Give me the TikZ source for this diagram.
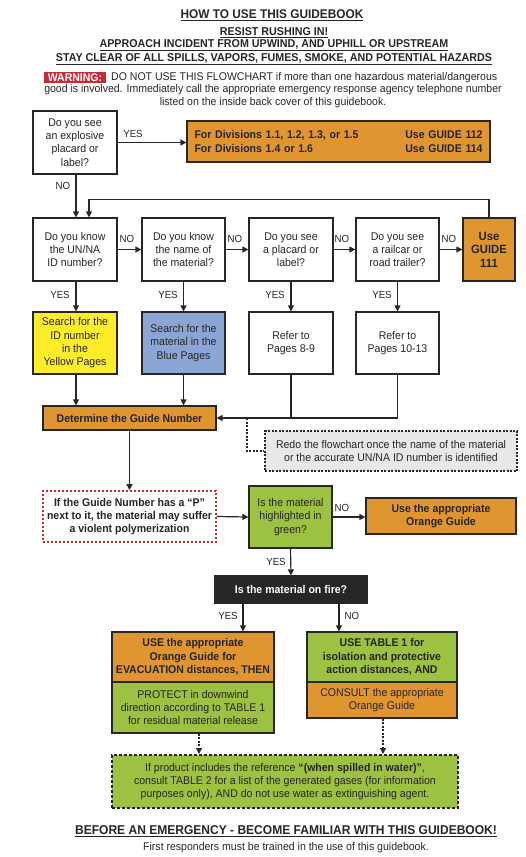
\documentclass[tikz,border=0pt]{standalone}
\usepackage{fontspec}
\setmainfont[FakeStretch=0.94]{Liberation Sans}
\usetikzlibrary{arrows.meta}
\definecolor{ink}{RGB}{40,38,38}
\definecolor{guideorange}{RGB}{224,150,48}
\definecolor{guideyellow}{RGB}{255,236,40}
\definecolor{guideblue}{RGB}{140,165,212}
\definecolor{guidegreen}{RGB}{157,193,64}
\definecolor{guidegrey}{RGB}{232,232,232}
\definecolor{warnred}{RGB}{206,40,52}
\begin{document}
\begin{tikzpicture}[x=1pt,y=1pt]
			\tikzstyle{every node}+=[inner sep=0pt, text=ink]
			\tikzstyle{box}=[draw=ink, line width=1.2pt, align=center, font=\fontsize{11.2}{13.3}\selectfont]
			\tikzstyle{bbox}=[box, font=\fontsize{11.2}{13.3}\selectfont\bfseries]
			\tikzstyle{arr}=[draw=ink, line width=1.2pt, -{Triangle[length=6pt,width=6pt]}]
			\tikzstyle{dotarr}=[arr, dash pattern=on 2pt off 1.5pt, line width=1.6pt]
			\tikzstyle{lbl}=[font=\fontsize{10.3}{12}\selectfont]
			\tikzstyle{head}=[font=\fontsize{11.4}{13}\selectfont\bfseries]
			\useasboundingbox (0,0) rectangle (526,-857);
			\draw (272,-15) node[head, font=\fontsize{12.6}{14}\selectfont\bfseries] (title) {\underline{HOW TO USE THIS GUIDEBOOK}};
			\draw (274,-33) node[head] (rush) {\underline{RESIST RUSHING IN!}};
			\draw (274,-45) node[head] (upwind) {\underline{APPROACH INCIDENT FROM UPWIND, AND UPHILL OR UPSTREAM}};
			\draw (274,-59) node[head] (clear) {\underline{STAY CLEAR OF ALL SPILLS, VAPORS, FUMES, SMOKE, AND POTENTIAL HAZARDS}};
			\draw (75,-77.5) node[fill=warnred, text=white, minimum width=62pt, minimum height=11pt, font=\fontsize{11.2}{12}\selectfont\bfseries] (warn) {WARNING:};
			\draw (111,-77.5) node[anchor=west, font=\fontsize{11.2}{12}\selectfont] (warn1) {DO NOT USE THIS FLOWCHART if more than one hazardous material/dangerous};
			\draw (273,-96) node[align=center, font=\fontsize{11.2}{12.5}\selectfont] (warn2) {good is involved. Immediately call the appropriate emergency response agency telephone number\\listed on the inside back cover of this guidebook.};
			\draw (75,-142.5) node[box, fill=white, minimum width=84pt, minimum height=63pt] (expl) {Do you see\\an explosive\\placard or\\label?};
			\draw (338.5,-141.5) node[bbox, fill=guideorange, minimum width=303pt, minimum height=41pt, text width=288pt, align=left] (g112) {For Divisions 1.1, 1.2, 1.3, or 1.5\hfill Use GUIDE 112\\For Divisions 1.4 or 1.6\hfill Use GUIDE 114};
			\draw (75,-249.5) node[box, fill=white, minimum width=84pt, minimum height=63pt] (q1) {Do you know\\the UN/NA\\ID number?};
			\draw (183.5,-249.5) node[box, fill=white, minimum width=83pt, minimum height=63pt] (q2) {Do you know\\the name of\\the material?};
			\draw (291,-249.5) node[box, fill=white, minimum width=84pt, minimum height=63pt] (q3) {Do you see\\a placard or\\label?};
			\draw (397.5,-249.5) node[box, fill=white, minimum width=83pt, minimum height=63pt] (q4) {Do you see\\a railcar or\\road trailer?};
			\draw (489,-249.5) node[bbox, fill=guideorange, minimum width=52pt, minimum height=63pt, font=\fontsize{12}{13.5}\selectfont\bfseries] (g111) {Use\\GUIDE\\111};
			\draw (75,-343) node[box, fill=guideyellow, minimum width=84pt, minimum height=62pt] (yellow) {Search for the\\ID number\\in the\\Yellow Pages};
			\draw (183.5,-343) node[box, fill=guideblue, minimum width=83pt, minimum height=62pt] (blue) {Search for the\\material in the\\Blue Pages};
			\draw (291,-343) node[box, fill=white, minimum width=84pt, minimum height=62pt] (p89) {Refer to\\Pages 8-9};
			\draw (397.5,-343) node[box, fill=white, minimum width=83pt, minimum height=62pt] (p1013) {Refer to\\Pages 10-13};
			\draw (129.5,-418) node[bbox, fill=guideorange, minimum width=173pt, minimum height=24pt] (det) {Determine the Guide Number};
			\draw (391,-451) node[box, fill=guidegrey, dash pattern=on 2pt off 1.5pt, line width=1.6pt, minimum width=252pt, minimum height=40pt] (redo) {Redo the flowchart once the name of the material\\or the accurate UN/NA ID number is identified};
			\draw (129.5,-516.5) node[bbox, draw=warnred, fill=white, dash pattern=on 2pt off 2pt, line width=1.6pt, minimum width=173pt, minimum height=51pt] (poly) {If the Guide Number has a “P”\\next to it, the material may suffer\\a violent polymerization};
			\draw (290.5,-517) node[box, fill=guidegreen, minimum width=83pt, minimum height=62pt] (green) {Is the material\\highlighted in\\green?};
			\draw (441,-516) node[bbox, fill=guideorange, minimum width=150pt, minimum height=36pt] (og) {Use the appropriate\\Orange Guide};
			\draw (291,-589.5) node[bbox, fill=ink, text=white, minimum width=152pt, minimum height=27pt] (fire) {Is the material on fire?};
			\draw (193,-657) node[bbox, fill=guideorange, minimum width=162pt, minimum height=50pt] (ltop) {USE the appropriate\\Orange Guide for\\EVACUATION distances, THEN};
			\draw (193,-707.5) node[box, fill=guidegreen, minimum width=162pt, minimum height=51pt] (lbot) {PROTECT in downwind\\direction according to TABLE 1\\for residual material release};
			\draw (382,-657) node[bbox, fill=guidegreen, minimum width=150pt, minimum height=50pt] (rtop) {USE TABLE 1 for\\isolation and protective\\action distances, AND};
			\draw (382,-700) node[box, fill=guideorange, minimum width=150pt, minimum height=36pt] (rbot) {CONSULT the appropriate\\Orange Guide};
			\draw (285,-781.5) node[box, fill=guidegreen, dash pattern=on 3pt off 2pt, line width=2pt, minimum width=346pt, minimum height=53pt] (water) {If product includes the reference \textbf{“(when spilled in water)”},\\consult TABLE 2 for a list of the generated gases (for information\\purposes only), AND do not use water as extinguishing agent.};
			\draw (286,-831) node[head, font=\fontsize{12.8}{14}\selectfont\bfseries] (before) {\underline{BEFORE AN EMERGENCY - BECOME FAMILIAR WITH THIS GUIDEBOOK!}};
			\draw (286,-848) node[font=\fontsize{11.2}{12}\selectfont] (trained) {First responders must be trained in the use of this guidebook.};
			\draw [arr] (expl.east) -- (expl.east -| g112.west);
			\draw (133,-134) node[lbl] (yes0) {YES};
			\draw [arr] ([xshift=1pt]expl.south) -- ([xshift=1pt]q1.north);
			\draw (63,-186) node[lbl] (no0) {NO};
			\draw [arr] (g111.north) -- ++(0,18) -| ([xshift=14pt]q1.north);
			\draw [arr] (q1.east) -- (q2.west);
			\draw [arr] (q2.east) -- (q3.west);
			\draw [arr] (q3.east) -- (q4.west);
			\draw [arr] (q4.east) -- (g111.west);
			\draw (127,-239) node[lbl] (no1) {NO};
			\draw (235,-239) node[lbl] (no2) {NO};
			\draw (342,-239) node[lbl] (no3) {NO};
			\draw (449,-239) node[lbl] (no4) {NO};
			\draw [arr] ([xshift=1pt]q1.south) -- ([xshift=1pt]yellow.north);
			\draw [arr] (q2.south) -- (blue.north);
			\draw [arr] (q3.south) -- (p89.north);
			\draw [arr] (q4.south) -- (p1013.north);
			\draw (60,-295) node[lbl] (yes1) {YES};
			\draw (168,-295) node[lbl] (yes2) {YES};
			\draw (275,-295) node[lbl] (yes3) {YES};
			\draw (382,-295) node[lbl] (yes4) {YES};
			\draw [arr] ([xshift=1pt]yellow.south) -- ([xshift=1pt]yellow.south |- det.north);
			\draw [arr] (blue.south) -- (blue.south |- det.north);
			\draw [draw=ink, line width=1.2pt] (p89.south) -- (p89.south |- det.east);
			\draw [arr] (p1013.south) |- (det.east);
			\coordinate (redojoin) at (247,-418);
			\draw [draw=ink, line width=1.6pt, dash pattern=on 2pt off 1.5pt] (redojoin) |- (redo.west);
			\draw [arr] (det.south) -- (poly.north);
			\draw [arr] (poly.east) -- (green.west);
			\draw [arr] (green.east) -- (green.east -| og.west);
			\draw (342,-508) node[lbl] (no5) {NO};
			\draw [arr] (green.south) -- (fire.north);
			\draw (276,-562) node[lbl] (yes5) {YES};
			\draw [arr] ([xshift=-48pt]fire.south) -- ([xshift=-48pt]fire.south |- ltop.north);
			\draw [arr] ([xshift=48pt]fire.south) -- ([xshift=48pt]fire.south |- rtop.north);
			\draw (228,-616) node[lbl] (yes6) {YES};
			\draw (352,-616) node[lbl] (no6) {NO};
			\draw [dotarr] ([xshift=6pt]lbot.south) -- ([xshift=6pt]lbot.south |- water.north);
			\draw [dotarr] ([xshift=1pt]rbot.south) -- ([xshift=1pt]rbot.south |- water.north);
		\end{tikzpicture}
\end{document}
